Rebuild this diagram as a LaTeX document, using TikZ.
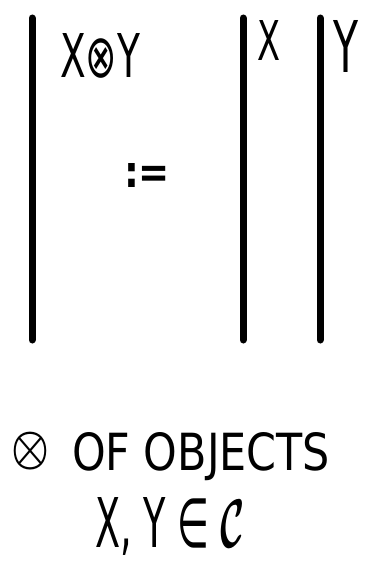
\documentclass[tikz,border=0pt]{standalone}
\usepackage{fontspec}
\usepackage{graphicx}
\setmainfont{DejaVu Sans}
\begin{document}
\begin{tikzpicture}[x=1pt,y=-1pt,
  wire/.style={line width=7pt,line cap=round},
  lbl/.style={anchor=north west,inner sep=0pt,outer sep=0pt}]
\useasboundingbox (0,0) rectangle (371,567);
% wires
\coordinate (a1) at (32,18); \coordinate (a2) at (32,340);
\coordinate (b1) at (243,18); \coordinate (b2) at (243,340);
\coordinate (c1) at (320,18); \coordinate (c2) at (320,340);
\draw[wire] (a1) -- (a2);
\draw[wire] (b1) -- (b2);
\draw[wire] (c1) -- (c2);
% labels
\node[lbl] (xy) at (60,33) {\resizebox{80pt}{44pt}{X⊗Y}};
\node[lbl] (x) at (257,20) {\resizebox{23pt}{40pt}{X}};
\node[lbl] (y) at (333,20) {\resizebox{25pt}{52pt}{Y}};
\node[lbl] (def) at (124,163) {\resizebox{46pt}{24pt}{\bfseries :=}};
\node[lbl] (ot) at (12,432) {\resizebox*{38pt}{38pt}{\boldmath$\otimes$}};
\node[lbl] (t1) at (72,432) {\resizebox{258pt}{38pt}{OF OBJECTS}};
\node[lbl] (t2) at (95,497) {\resizebox{150pt}{50pt}{X, Y ∈ \boldmath$\mathcal{C}$}};
\end{tikzpicture}
\end{document}
